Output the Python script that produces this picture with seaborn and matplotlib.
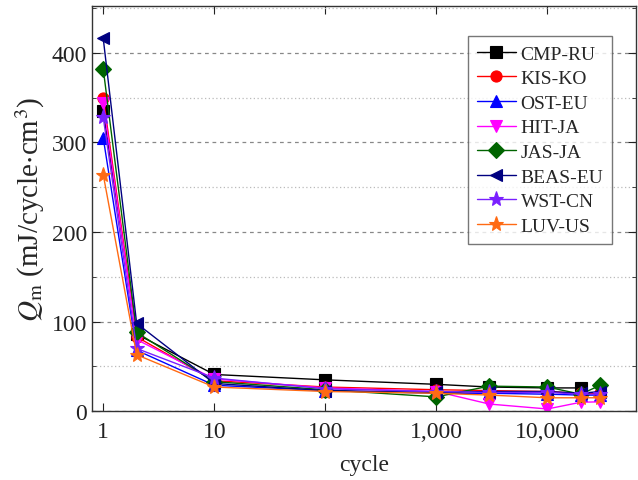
import numpy as np
import pandas as pd
import matplotlib
matplotlib.use("Agg")
import matplotlib.pyplot as plt
from matplotlib.ticker import FixedLocator, MultipleLocator, NullLocator
import seaborn as sns

cycles = [1, 2, 10, 100, 1000, 3000, 10000, 20000, 30000]
series_names = ["CMP-RU", "KIS-KO", "OST-EU", "HIT-JA", "JAS-JA", "BEAS-EU", "WST-CN", "LUV-US"]
cmp_ru = [335, 86, 41, 35, 30, 27, 26, 26, np.nan]
kis_ko = [350, 83, 34, 27, 24, 23, 22, 20, 20]
ost_eu = [305, 68, 29, 23, 20, 20, 19, 18, 18]
hit_ja = [344, 80, 36, 26, 22, 8, 2.5, 10, 10.5]
jas_ja = [382, 88, 33, 24, 16, 28, 27, 19, 29]
beas_eu = [416, 98, 31, 23, 21, 22, 22, 20, 22]
wst_cn = [328, 70, 37, 25, 22, 21, 21, 19, 19]
luv_us = [264, 63, 27, 22, 20, 18, 15, 15, 15]
x_tick_values = [1, 10, 100, 1000, 10000]
x_tick_labels = ["1", "10", "100", "1,000", "10,000"]

values = [cmp_ru, kis_ko, ost_eu, hit_ja, jas_ja, beas_eu, wst_cn, luv_us]
rows = []
for name, vals in zip(series_names, values):
    for c, v in zip(cycles, vals):
        rows.append({"cycle": c, "Qm": v, "series": name})
df = pd.DataFrame(rows).dropna()

palette = {"CMP-RU": "#000000", "KIS-KO": "#FF0000", "OST-EU": "#0000FF",
           "HIT-JA": "#FF00FF", "JAS-JA": "#006400", "BEAS-EU": "#000080",
           "WST-CN": "#7A1FFF", "LUV-US": "#FF6A13"}
markers = {"CMP-RU": "s", "KIS-KO": "o", "OST-EU": "^", "HIT-JA": "v",
           "JAS-JA": "D", "BEAS-EU": "<", "WST-CN": "*", "LUV-US": "*"}

sns.set_style("ticks")
plt.rcParams["font.family"] = ["Liberation Serif", "DejaVu Serif"]
plt.rcParams["mathtext.fontset"] = "stix"

fig = plt.figure(figsize=(6.38, 4.81), dpi=100)
ax = fig.add_axes([0.144, 0.143, 0.853, 0.842])

sns.lineplot(data=df, x="cycle", y="Qm", hue="series", style="series",
             hue_order=series_names, style_order=series_names,
             palette=palette, markers=markers, dashes=False,
             markersize=8, linewidth=1.0, markeredgewidth=0.8, ax=ax)

for line in ax.lines:
    line.set_markeredgecolor(line.get_color())
    if line.get_marker() == "*":
        line.set_markersize(11)

ax.set_xscale("log")
ax.set_xlim(0.79, 63000)
ax.set_ylim(0, 452)
ax.xaxis.set_major_locator(FixedLocator(x_tick_values))
ax.set_xticklabels(x_tick_labels)
ax.xaxis.set_minor_locator(NullLocator())
ax.yaxis.set_major_locator(MultipleLocator(100))
ax.yaxis.set_minor_locator(MultipleLocator(50))

ax.grid(False)
ax.yaxis.grid(True, which="major", linestyle=(0, (3, 3)), color="#888888", linewidth=0.9)
ax.yaxis.grid(True, which="minor", linestyle=(0, (1, 2)), color="#BBBBBB", linewidth=0.9)
ax.set_axisbelow(True)

for s in ax.spines.values():
    s.set_visible(True)
    s.set_color("#333333")
    s.set_linewidth(1.0)

ax.tick_params(axis="both", which="both", direction="in", top=True, right=True,
               labelsize=17, colors="#222222")
ax.tick_params(axis="both", which="major", length=6)
ax.tick_params(axis="y", which="minor", length=3)
ax.tick_params(axis="x", pad=7)

ax.set_xlabel("cycle", fontsize=17, labelpad=9)
ax.set_ylabel(r"$Q_{\mathrm{m}}$ (mJ/cycle$\cdot$cm$^{3}$)", fontsize=21, labelpad=3)

handles, labels = ax.get_legend_handles_labels()
for h in handles:
    h.set_markeredgecolor(h.get_color())
    if h.get_marker() == "*":
        h.set_markersize(11)
leg = ax.legend(handles, labels, loc="upper right", bbox_to_anchor=(0.956, 0.926),
                borderaxespad=0, fontsize=14, frameon=True, fancybox=False,
                edgecolor="#555555", handlelength=2.0, labelspacing=0.36,
                borderpad=0.45, handletextpad=0.25)
leg.get_frame().set_linewidth(1.0)

fig.savefig("out.png", dpi=100)
